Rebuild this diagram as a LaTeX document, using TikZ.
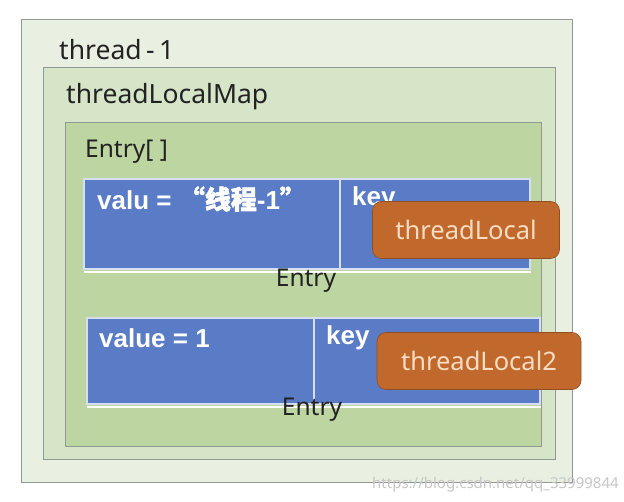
\documentclass[tikz,border=0pt]{standalone}
\usepackage{fontspec}
\setmainfont{Noto Sans}
\newfontfamily\cjkbold{Noto Sans CJK SC}[FakeBold=2]
\newfontfamily\boldsans{Liberation Sans}
\definecolor{bgout}{HTML}{E9F0E1}
\definecolor{bgmap}{HTML}{D6E4C8}
\definecolor{bgarr}{HTML}{BDD6A1}
\definecolor{lineg}{HTML}{8E9A92}
\definecolor{entryblue}{HTML}{5A7BC6}
\definecolor{orangebox}{HTML}{C1692C}
\definecolor{orangetxt}{HTML}{F9DCC2}
\definecolor{darktxt}{HTML}{222222}
\tikzset{
  x=1pt, y=-1pt,
  panel/.style={draw=lineg, line width=1pt},
  lbl/.style={anchor=west, inner sep=0pt, text=darktxt, font=\fontsize{26.5}{30}\selectfont},
  cell/.style={fill=entryblue, draw=white!75!entryblue, line width=1.5pt},
  celltxt/.style={anchor=west, inner sep=0pt, text=white, font=\boldsans\bfseries\fontsize{26}{30}\selectfont},
  tlbox/.style={fill=orangebox, draw=orangebox!75!black, line width=0.6pt, rounded corners=9pt, inner sep=0pt},
  tltxt/.style={text=orangetxt, font=\fontsize{25.5}{28}\selectfont},
  entrylbl/.style={inner sep=0pt, text=darktxt, font=\fontsize{24.5}{28}\selectfont}
}
\begin{document}
\begin{tikzpicture}
\useasboundingbox[fill=white] (0,0) rectangle (624,502);
% panels
\path[panel, fill=bgout] (21,20) rectangle (572,482);
\node[lbl] (t1) at (59,50) {thread\,-\,1};
\path[panel, fill=bgmap] (43,68) rectangle (555,460);
\node[lbl] (map) at (66,97) {threadLocalMap};
\path[panel, fill=bgarr] (65,123) rectangle (541,447);
\node[lbl, entrylbl, anchor=west] (arr) at (85,152) {Entry[ ]};
% entry 1
\draw[white, line width=2.5pt] (84,272) -- (531,272);
\path[cell] (84,179) rectangle (340,269);
\path[cell] (340,179) rectangle (530,269);
\node[celltxt] (v1) at (97,199) {valu = {\cjkbold “线程}-1{\cjkbold ”}};
\node[celltxt] (k1) at (352,199) {key};
\node[tlbox, minimum width=187pt, minimum height=57pt] (tl1) at (466,230) {};
\node[tltxt] (tl1t) at (tl1.center) {threadLocal};
\node[entrylbl] (e1) at (306,281) {Entry};
% entry 2
\draw[white, line width=2.5pt] (87,407) -- (541,407);
\path[cell] (87,318) rectangle (314,404);
\path[cell] (314,318) rectangle (540,404);
\node[celltxt] (v2) at (99,338) {value = 1};
\node[celltxt] (k2) at (326,338) {key};
\node[tlbox, minimum width=204pt, minimum height=57pt] (tl2) at (479,361) {};
\node[tltxt] (tl2t) at (tl2.center) {threadLocal2};
\node[entrylbl] (e2) at (312,410) {Entry};
% watermark
\node[anchor=west, inner sep=0pt, text=black!22, font=\fontsize{15}{18}\selectfont] (wm) at (372,485) {https://blog.csdn.net/qq\_33999844};
\end{tikzpicture}
\end{document}
